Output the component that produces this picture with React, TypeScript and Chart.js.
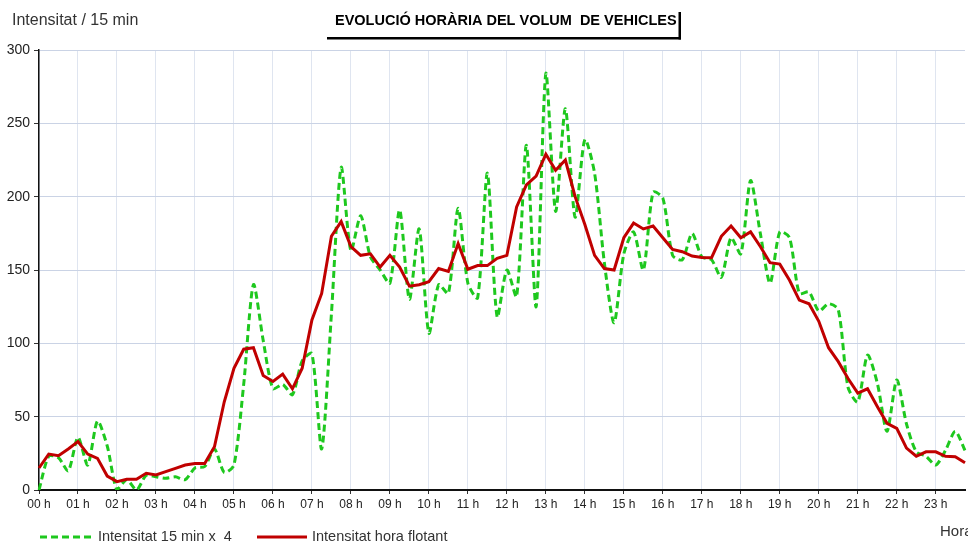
import React, { useEffect, useRef } from "react";
import { Chart, registerables } from "chart.js";

Chart.register(...registerables);

// Hour tick labels (one per hour)
const hourLabels = [
  "00 h", "01 h", "02 h", "03 h", "04 h", "05 h", "06 h", "07 h",
  "08 h", "09 h", "10 h", "11 h", "12 h", "13 h", "14 h", "15 h",
  "16 h", "17 h", "18 h", "19 h", "20 h", "21 h", "22 h", "23 h",
];
const quarterSuffixes = [":00", ":15", ":30", ":45"];

// Intensitat 15 min x 4 (green dashed)
const green15min = [
  0, 23, 22, 13,
  36, 17, 47, 30,
  0, 7, 0, 10,
  9, 8, 9, 7,
  15, 16, 28, 12,
  17, 72, 140, 102,
  69, 72, 65, 88,
  93, 28, 120, 220,
  163, 187, 159, 150,
  141, 191, 130, 178,
  107, 140, 134, 192,
  141, 131, 216, 118,
  150, 132, 235, 125,
  284, 190, 260, 186,
  239, 216, 155, 114,
  161, 176, 150, 203,
  199, 160, 157, 175,
  159, 157, 145, 172,
  161, 211, 175, 141,
  176, 172, 134, 135,
  122, 127, 123, 70,
  60, 92, 73, 40,
  75, 45, 26, 23,
  17, 27, 40, 27,
];

// Intensitat hora flotant (red)
const redHourly = [
  15, 24.5, 23.4, 28,
  33, 24.5, 21.6, 9.5,
  5.7, 7.3, 7.3, 11.4,
  10.2, 12.5, 14.8, 17,
  18, 18, 29.5, 60,
  83, 96, 97, 78,
  74, 79, 69, 83,
  116, 134, 173, 183,
  166, 160, 161, 152,
  160, 152, 139, 140,
  142, 151, 149, 168,
  150.5, 153, 153, 158,
  160, 193, 208, 214,
  229, 218, 225, 200,
  181, 160, 151, 150,
  172, 182, 178, 180,
  172, 164, 162.5, 159.5,
  158.6, 158.4, 173, 180,
  172, 176, 166, 155,
  154, 143, 129.5, 127,
  115, 97, 87.5, 76,
  66, 69, 57, 45.5,
  42, 28.6, 23, 26,
  26, 23, 22.7, 18.6,
];

const chartTitle = "EVOLUCIÓ HORÀRIA DEL VOLUM  DE VEHICLES";
const yAxisTitle = "Intensitat / 15 min";
const xAxisTitle = "Hora";
const greenLabel = "Intensitat 15 min x  4";
const redLabel = "Intensitat hora flotant";

const GREEN = "#1ec81e";
const RED = "#c00000";
const FONT = '"Liberation Sans", Arial, sans-serif';

const categories: string[] = [];
hourLabels.forEach((h) => {
  quarterSuffixes.forEach((q) => categories.push(h.slice(0, 2) + q));
});

const extrasPlugin = {
  id: "extras",
  afterDraw(chart: any) {
    const ctx = chart.ctx as CanvasRenderingContext2D;
    ctx.save();
    // y axis title
    ctx.font = `16px ${FONT}`;
    ctx.fillStyle = "#333";
    ctx.textBaseline = "middle";
    ctx.textAlign = "left";
    ctx.fillText(yAxisTitle, 12, 21);

    // title box shadow
    ctx.fillStyle = "#000";
    ctx.fillRect(327, 37, 354, 2.5);
    ctx.fillRect(678.5, 12, 2.5, 27.5);
    ctx.font = `bold 14.5px ${FONT}`;
    ctx.fillStyle = "#000";
    ctx.fillText(chartTitle, 335, 21);

    // legend
    ctx.lineWidth = 3;
    ctx.strokeStyle = GREEN;
    ctx.setLineDash([7, 4]);
    ctx.beginPath();
    ctx.moveTo(40, 537);
    ctx.lineTo(92, 537);
    ctx.stroke();
    ctx.setLineDash([]);
    ctx.strokeStyle = RED;
    ctx.beginPath();
    ctx.moveTo(257, 537);
    ctx.lineTo(307, 537);
    ctx.stroke();
    ctx.font = `14.5px ${FONT}`;
    ctx.fillStyle = "#333";
    ctx.fillText(greenLabel, 98, 537);
    ctx.fillText(redLabel, 312, 537);

    // x axis title
    ctx.font = `15px ${FONT}`;
    ctx.fillText(xAxisTitle, 940, 532);
    ctx.restore();
  },
};

export default function App() {
  const canvasRef = useRef<HTMLCanvasElement | null>(null);

  useEffect(() => {
    if (!canvasRef.current) return;
    const chart = new Chart(canvasRef.current, {
      type: "line",
      data: {
        labels: categories,
        datasets: [
          {
            label: greenLabel,
            data: green15min,
            borderColor: GREEN,
            backgroundColor: GREEN,
            borderWidth: 3,
            borderDash: [7, 4],
            pointRadius: 0,
            tension: 0.25,
            fill: false,
            order: 1,
          },
          {
            label: redLabel,
            data: redHourly,
            borderColor: RED,
            backgroundColor: RED,
            borderWidth: 3,
            pointRadius: 0,
            tension: 0,
            fill: false,
            order: 0,
          },
        ],
      },
      options: {
        responsive: false,
        animation: false,
        devicePixelRatio: 1,
        layout: { padding: { top: 50, left: 0, right: 0, bottom: 0 } },
        plugins: {
          legend: { display: false },
          tooltip: { enabled: false },
          title: { display: false },
        },
        scales: {
          x: {
            type: "category",
            offset: false,
            grid: {
              color: (c: any) => (c.index % 4 === 0 ? "#dfe5f0" : "rgba(0,0,0,0)"),
              tickColor: (c: any) => (c.index % 4 === 0 ? "#333" : "rgba(0,0,0,0)"),
              tickLength: 4,
              lineWidth: 1,
            },
            border: { color: "#111", width: 2 },
            ticks: {
              autoSkip: false,
              maxRotation: 0,
              minRotation: 0,
              padding: 3,
              color: "#222",
              font: { size: 12, family: FONT },
              callback: (_v: any, i: number) => (i % 4 === 0 ? hourLabels[i / 4] : ""),
            },
            afterFit: (s: any) => {
              s.height = 53;
            },
          },
          y: {
            min: 0,
            max: 300,
            grid: {
              color: "#cad3e5",
              tickColor: "#333",
              tickLength: 5,
              lineWidth: 1,
            },
            border: { color: "#111", width: 1.5 },
            ticks: {
              stepSize: 50,
              padding: 4,
              color: "#222",
              font: { size: 14, family: FONT },
            },
            afterFit: (s: any) => {
              s.width = 39;
            },
          },
        },
      },
      plugins: [extrasPlugin],
    });
    return () => chart.destroy();
  }, []);

  return (
    <div style={{ position: "fixed", left: 0, top: 0, width: 968, height: 543, background: "#fff" }}>
      <canvas ref={canvasRef} width={968} height={543} />
    </div>
  );
}
